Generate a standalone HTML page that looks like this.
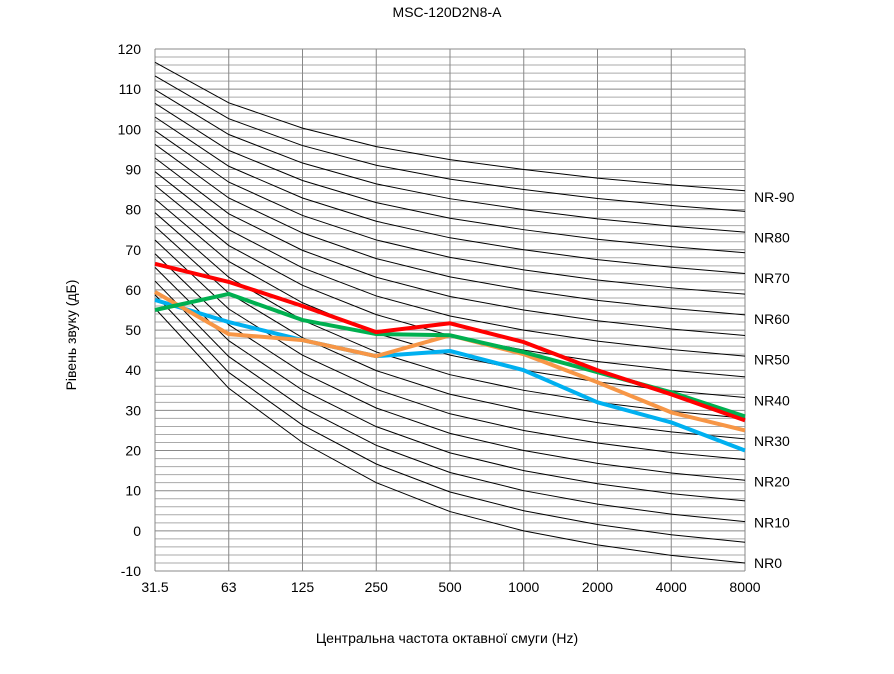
<!DOCTYPE html>
<html><head><meta charset="utf-8"><style>
body{margin:0;background:#fff;font-family:"Liberation Sans","DejaVu Sans",sans-serif;}
svg text{font-family:"Liberation Sans","DejaVu Sans",sans-serif;}
</style></head><body>
<svg id="chart" width="894" height="669" viewBox="0 0 894 669" xmlns="http://www.w3.org/2000/svg">
<text x="447" y="17" text-anchor="middle" font-size="14">MSC-120D2N8-A</text>
<text x="447" y="643" text-anchor="middle" font-size="14">Центральна частота октавної смуги (Hz)</text>
<text transform="translate(76,335) rotate(-90)" text-anchor="middle" font-size="14">Рівень звуку  (дБ)</text>
<g id="grid"></g><g id="curves"></g><g id="series"></g><g id="labels"></g>
</svg>
<script>
const categories=["31.5","63","125","250","500","1000","2000","4000","8000"];
const nrA=[55.4,35.5,22,12,4.8,0,-3.5,-6.1,-8];
const nrB=[0.681,0.79,0.87,0.93,0.974,1,1.015,1.025,1.03];
const nrLevels=[0,5,10,15,20,25,30,35,40,45,50,55,60,65,70,75,80,85,90];
const nrLabels=["NR0","NR10","NR20","NR30","NR40","NR50","NR60","NR70","NR80","NR-90"];
const nrLabelLevels=[0,10,20,30,40,50,60,70,80,90];
const redValues=[66.5,62,56,49.5,51.7,47,40,34,27.5];
const greenValues=[55,59,52.5,49,48.7,44.5,39.5,34.5,28.5];
const blueValues=[57.5,52,47.5,43.5,44.8,40,32,27,20];
const orangeValues=[59.5,49,47.5,43.5,48.7,44,37,29.5,25];
const yTicks=[-10,0,10,20,30,40,50,60,70,80,90,100,110,120];
const NS="http://www.w3.org/2000/svg";
const X0=155,X1=745,Y0=571,Y1=49,YMIN=-10,YMAX=120;
const xs=i=>X0+i*(X1-X0)/(categories.length-1);
const ys=v=>Y0-(v-YMIN)*(Y0-Y1)/(YMAX-YMIN);
function mk(tag,attrs,parent){const e=document.createElementNS(NS,tag);for(const k in attrs)e.setAttribute(k,attrs[k]);document.getElementById(parent).appendChild(e);return e;}
for(let v=YMIN;v<=YMAX;v+=2){const major=(v%10===0);
 const l=mk('line',{x1:X0,x2:X1,y1:ys(v),y2:ys(v),stroke:major?'#888':'#aaa','stroke-width':1},'grid');
 
 }
categories.forEach((c,i)=>{const l=mk('line',{x1:xs(i),x2:xs(i),y1:Y1,y2:Y0,stroke:'#888','stroke-width':1},'grid');
 
 
 const t=mk('text',{x:xs(i),y:Y0+21,'text-anchor':'middle','font-size':14},'labels');t.textContent=c;
 
 });
yTicks.forEach(v=>{const t=mk('text',{x:X0-14,y:ys(v)+5,'text-anchor':'end','font-size':14},'labels');t.textContent=v;
 
 });
nrLevels.forEach(n=>{const pts=categories.map((c,i)=>xs(i)+','+ys(nrA[i]+nrB[i]*n)).join(' ');
 const p=mk('polyline',{points:pts,fill:'none',stroke:'#000','stroke-width':1},'curves');
 
 });
nrLabels.forEach((lab,k)=>{const n=nrLabelLevels[k];const v=nrA[8]+1.013*n;
 const t=mk('text',{x:X1+9,y:ys(v)+5,'font-size':14},'labels');t.textContent=lab;
 
 });
[[blueValues,'#00b0f0','blue'],[orangeValues,'#f79646','orange'],[greenValues,'#00b050','green'],[redValues,'#ff0000','red']].forEach(([vals,col,nm])=>{
 const pts=vals.map((v,i)=>xs(i)+','+ys(v)).join(' ');
 const p=mk('polyline',{points:pts,fill:'none',stroke:col,'stroke-width':4,'stroke-linejoin':'round'},'series');
 
 });
</script>
</body></html>
